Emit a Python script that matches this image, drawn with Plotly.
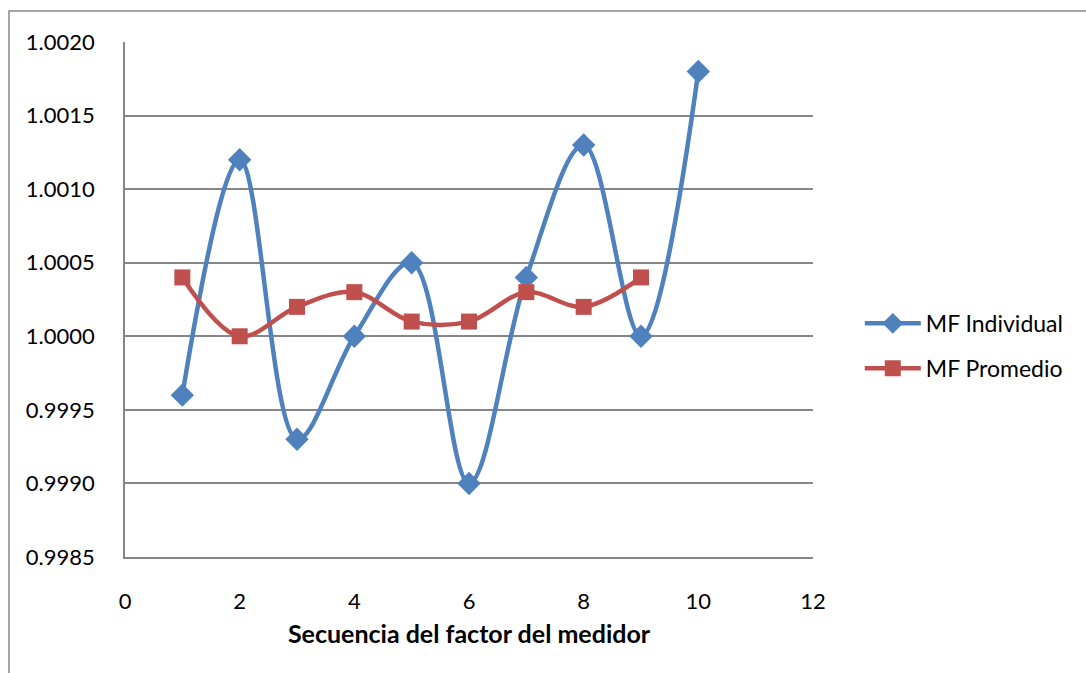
import plotly.graph_objects as go

# Meter factor sequence data
seq_individual = [1, 2, 3, 4, 5, 6, 7, 8, 9, 10]
mf_individual = [0.9996, 1.0012, 0.9993, 1.0000, 1.0005, 0.9990, 1.0004, 1.0013, 1.0000, 1.0018]

seq_promedio = [1, 2, 3, 4, 5, 6, 7, 8, 9]
mf_promedio = [1.0004, 1.0000, 1.0002, 1.0003, 1.0001, 1.0001, 1.0003, 1.0002, 1.0004]

y_ticks = [0.9985, 0.9990, 0.9995, 1.0000, 1.0005, 1.0010, 1.0015, 1.0020]
x_ticks = [0, 2, 4, 6, 8, 10, 12]

BLUE = "#4F81BD"
RED = "#C0504D"
GRID = "#868686"
FONT = "Lato"

fig = go.Figure()
fig.add_trace(go.Scatter(
    x=seq_individual, y=mf_individual, name="MF Individual",
    legendgroup="a",
    mode="lines+markers",
    line=dict(color=BLUE, width=4.5, shape="spline", smoothing=1),
    marker=dict(symbol="diamond", size=18, color=BLUE),
))
fig.add_trace(go.Scatter(
    x=seq_promedio, y=mf_promedio, name="MF Promedio",
    legendgroup="b",
    mode="lines+markers",
    line=dict(color=RED, width=4.5, shape="spline", smoothing=1),
    marker=dict(symbol="square", size=16, color=RED),
))

# Outer chart-area frame
fig.add_shape(type="rect", xref="paper", yref="paper",
              x0=-0.1686, x1=1.45, y0=-0.3, y1=1.0602,
              line=dict(color=GRID, width=1.5), fillcolor="rgba(0,0,0,0)", layer="below")

fig.update_layout(
    width=1086, height=673,
    margin=dict(l=125, r=273, t=42, b=116),
    plot_bgcolor="white", paper_bgcolor="white",
    font=dict(family=FONT, color="black", size=22),
    showlegend=True,
    legend=dict(x=1.068, y=0.41, xanchor="left", yanchor="middle",
                font=dict(family=FONT, size=23), tracegroupgap=12,
                itemwidth=56, bgcolor="rgba(0,0,0,0)"),
    xaxis=dict(range=[0, 12], tickvals=x_ticks, showgrid=False, zeroline=False,
               showline=True, linecolor=GRID, linewidth=1.5, mirror=False,
               ticks="", ticklabelstandoff=24,
               tickfont=dict(family=FONT, size=22),
               title=dict(text="<b>Secuencia del factor del medidor</b>",
                          font=dict(family=FONT, size=25), standoff=12)),
    yaxis=dict(range=[0.9985, 1.0020], tickvals=y_ticks, tickformat=".4f",
               showgrid=True, gridcolor=GRID, gridwidth=1.5, zeroline=False,
               showline=True, linecolor=GRID, linewidth=1.5,
               ticks="", ticklabelstandoff=24,
               tickfont=dict(family=FONT, size=22)),
)

fig.write_html("out.html")
